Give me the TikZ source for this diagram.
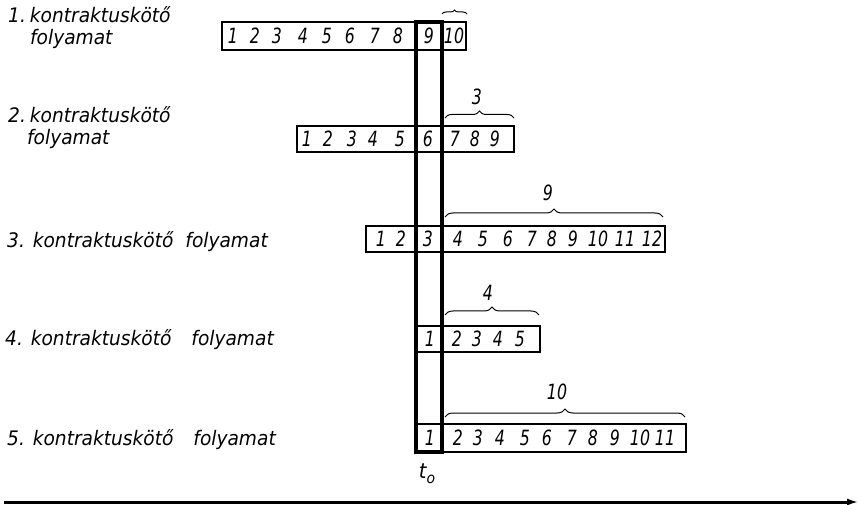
\documentclass[tikz,border=0pt]{standalone}
\usepackage{fontspec}
\setmainfont{DejaVu Sans}[FakeStretch=0.93]
\newfontfamily\digitfont{DejaVu Sans}[FakeStretch=0.75]
\usetikzlibrary{decorations.pathreplacing,arrows.meta}
\begin{document}
\begin{tikzpicture}[x=1pt,y=-1pt,
  rowlabel/.style={anchor=base west,inner sep=0pt,font=\fontsize{20}{22}\selectfont\itshape},
  num/.style={inner sep=0pt,font=\digitfont\fontsize{21}{23}\selectfont\itshape},
  rowbox/.style={draw,line width=2.4pt},
  column/.style={draw,line width=4pt},
  brc/.style={decorate,decoration={brace,amplitude=#1},line width=1pt},
  axis/.style={line width=3pt,-{Latex[length=12pt,width=7pt]}}
  ]
\useasboundingbox (0,0) rectangle (860,505);

% row captions
\node[rowlabel] (l1a) at (8,23)  {1.\hspace{4pt}kontraktusköt\H{o}};
\node[rowlabel] (l1b) at (30,45) {folyamat};
\node[rowlabel] (l2a) at (8,123) {2.\hspace{4pt}kontraktusköt\H{o}};
\node[rowlabel] (l2b) at (27,145) {folyamat};
\node[rowlabel] (l3) at (7,248) {3. kontraktusköt\H{o}\hspace{12pt}folyamat};
\node[rowlabel] (l4) at (5,345) {4. kontraktusköt\H{o}\hspace{20pt}folyamat};
\node[rowlabel] (l5) at (7,445) {5. kontraktusköt\H{o}\hspace{20pt}folyamat};

% step bars
\draw[rowbox] (222,22) rectangle (466,50);
\draw[rowbox] (297,126) rectangle (514,152);
\draw[rowbox] (366,226) rectangle (665,252);
\draw[rowbox] (416,326) rectangle (540,352);
\draw[rowbox] (416,424) rectangle (686,452);

% the common t_o column
\draw[column] (416,22) rectangle (442,452);

% step numbers
\foreach \x/\t [count=\i] in {233/1,255/2,277/3,303/4,327/5,350/6,375/7,398/8,429/9,454/10}
  \node[num] (a\i) at (\x,36) {\t};
\foreach \x/\t [count=\i] in {307/1,328/2,352/3,373/4,400/5,428/6,455/7,475/8,495/9}
  \node[num] (b\i) at (\x,139) {\t};
\foreach \x/\t [count=\i] in {381/1,401/2,428/3,458/4,483/5,508/6,532/7,552/8,573/9,598/10,625/11,652/12}
  \node[num] (c\i) at (\x,239) {\t};
\foreach \x/\t [count=\i] in {430/1,457/2,477/3,498/4,520/5}
  \node[num] (d\i) at (\x,339) {\t};
\foreach \x/\t [count=\i] in {430/1,458/2,478/3,500/4,525/5,547/6,572/7,593/8,615/9,640/10,665/11}
  \node[num] (e\i) at (\x,438) {\t};

% braces over the remaining steps
\coordinate (br1L) at (442,14);  \coordinate (br1R) at (467,14);
\coordinate (br2L) at (445,118); \coordinate (br2R) at (514,118);
\coordinate (br3L) at (445,217); \coordinate (br3R) at (663,217);
\coordinate (br4L) at (445,315); \coordinate (br4R) at (539,315);
\coordinate (br5L) at (445,417); \coordinate (br5R) at (685,417);
\draw[brc=4pt] (br1L) -- (br1R);
\draw[brc=7pt] (br2L) -- (br2R);
\draw[brc=8pt] (br3L) -- (br3R);
\draw[brc=8pt] (br4L) -- (br4R);
\draw[brc=8pt] (br5L) -- (br5R);
\node[num] (n2) at (477,97)  {3};
\node[num] (n3) at (548,193) {9};
\node[num] (n4) at (488,293) {4};
\node[num] (n5) at (557,392) {10};

% time marker
\node[inner sep=0pt,font=\fontsize{21}{23}\selectfont\itshape] (t0) at (427,474)
  {t\raisebox{-0.45ex}{\fontsize{15}{15}\selectfont o}};

% time axis
\coordinate (axL) at (4,502);
\coordinate (axR) at (859,502);
\draw[axis] (axL) -- (axR);
\end{tikzpicture}
\end{document}
